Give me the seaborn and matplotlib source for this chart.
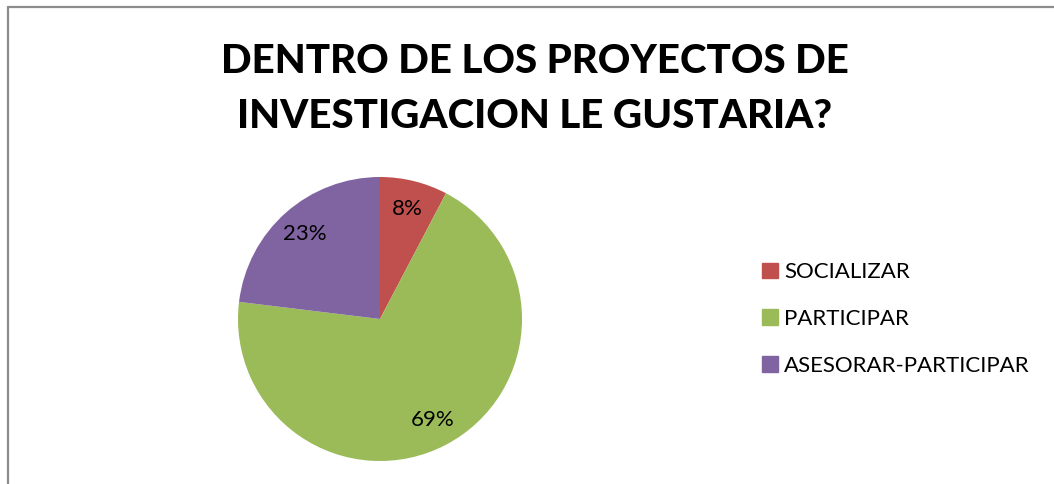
import matplotlib
matplotlib.use('Agg')
import matplotlib.pyplot as plt
import matplotlib.lines as mlines
import matplotlib.patches as mpatches
import seaborn as sns

categorias = ['SOCIALIZAR', 'PARTICIPAR', 'ASESORAR-PARTICIPAR']
respuestas = [1, 9, 3]
colores = ['#C0504D', '#9BBB59', '#8064A2']
titulo = 'DENTRO DE LOS PROYECTOS DE\nINVESTIGACION LE GUSTARIA?'

sns.set_theme(style='white')
plt.rcParams['font.family'] = ['Lato', 'DejaVu Sans']
plt.rcParams['text.color'] = 'black'

W, H = 1054, 484
fig = plt.figure(figsize=(W / 100, H / 100), dpi=100)

# marco gris (solo arriba e izquierda visibles)
fig.add_artist(mlines.Line2D([8 / W, 1], [1 - 7 / H, 1 - 7 / H], color='#8c8c8c', lw=1.6))
fig.add_artist(mlines.Line2D([8 / W, 8 / W], [0, 1 - 7 / H], color='#8c8c8c', lw=1.6))

cx, cy, r = 380, 319, 142
ax = fig.add_axes([(cx - r) / W, (H - cy - r) / H, 2 * r / W, 2 * r / H])
wedges, _, autotexts = ax.pie(respuestas, colors=colores, startangle=90, counterclock=False,
                              autopct='%1.0f%%', pctdistance=0.8,
                              textprops={'fontsize': 16, 'color': 'black'},
                              wedgeprops={'linewidth': 0})
ax.set_xlim(-1, 1)
ax.set_ylim(-1, 1)
ax.set_aspect('equal')
ax.axis('off')

fig.text(535 / W, 1 - 89 / H, titulo, ha='center', va='center', fontsize=29,
         fontweight='black', color='black', linespacing=1.6)

handles = [mpatches.Patch(color=c, label=l) for c, l in zip(colores, categorias)]
fig.legend(handles=handles, loc='center left', bbox_to_anchor=(742 / W, 1 - 319 / H),
           frameon=False, fontsize=16, handlelength=0.7, handleheight=0.7,
           handletextpad=0.3, labelspacing=1.2)

fig.savefig('out.png', dpi=100)
